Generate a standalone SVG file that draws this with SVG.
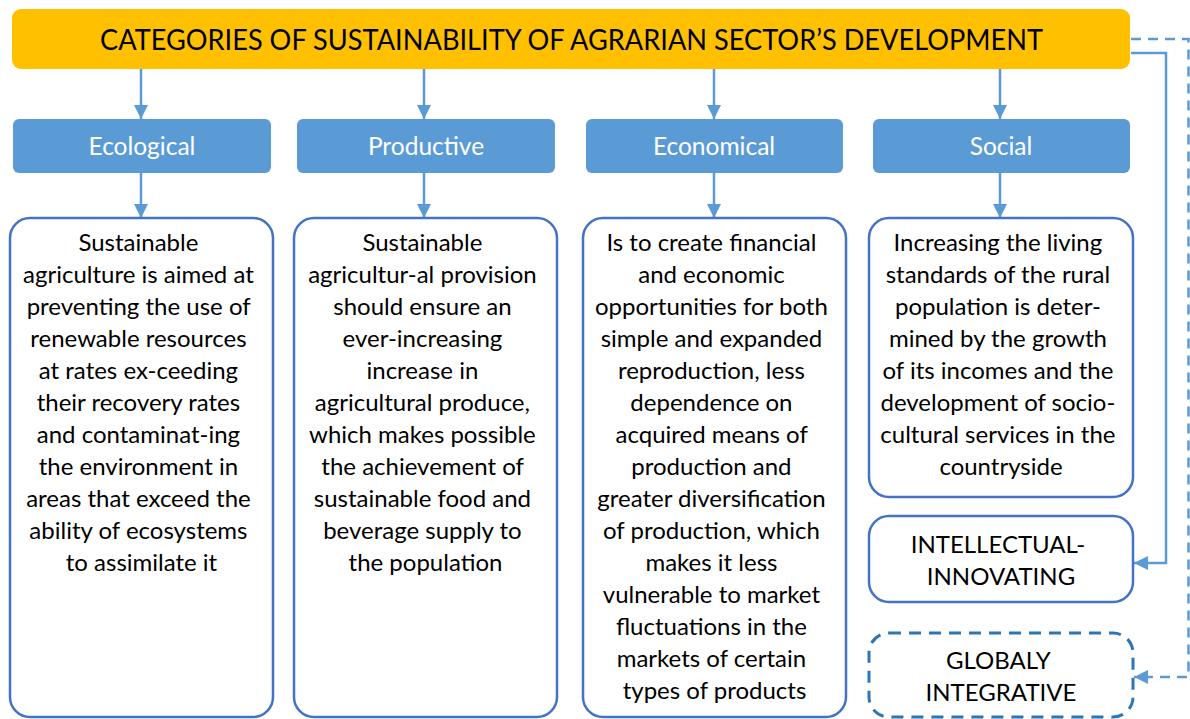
<svg xmlns="http://www.w3.org/2000/svg" width="1190" height="719" viewBox="0 0 1190 719">
<defs>
<marker id="ah" markerUnits="userSpaceOnUse" markerWidth="16" markerHeight="16" refX="14" refY="7" orient="auto">
<path d="M0,0 L14,7 L0,14 Z" fill="#5B9BD5"/>
</marker>
<style>
.hdr{fill:#5B9BD5;}
.hdrt{fill:#FFFFFF;font-family:Lato,"Liberation Sans",sans-serif;font-size:24.5px;text-anchor:middle;}
.box{fill:#FFFFFF;stroke:#4472C4;stroke-width:2.5;}
.dbox{fill:#FFFFFF;stroke:#2E75B6;stroke-width:3;stroke-dasharray:12 8;}
.t{fill:#000000;font-family:Lato,"Liberation Sans",sans-serif;font-size:24px;text-anchor:middle;}
.c{fill:none;stroke:#5B9BD5;stroke-width:2.5;}
.cd{fill:none;stroke:#5B9BD5;stroke-width:2.5;stroke-dasharray:10 7;}
</style>
</defs>
<rect width="1190" height="719" fill="#FFFFFF"/>

<g id="title">
<rect x="12" y="9" width="1118" height="60" rx="9" fill="#FFC000"/>
<text x="571.5" y="50" font-family="Lato,'Liberation Sans',sans-serif" font-size="28" text-anchor="middle" fill="#000000" textLength="943" lengthAdjust="spacingAndGlyphs">CATEGORIES OF SUSTAINABILITY OF AGRARIAN SECTOR’S DEVELOPMENT</text>
</g>

<g id="connectors">
<line class="c" x1="141" y1="69" x2="141" y2="119" marker-end="url(#ah)"/>
<line class="c" x1="424" y1="69" x2="424" y2="119" marker-end="url(#ah)"/>
<line class="c" x1="714" y1="69" x2="714" y2="119" marker-end="url(#ah)"/>
<line class="c" x1="1000" y1="69" x2="1000" y2="119" marker-end="url(#ah)"/>
<line class="c" x1="141" y1="173" x2="141" y2="218" marker-end="url(#ah)"/>
<line class="c" x1="424" y1="173" x2="424" y2="218" marker-end="url(#ah)"/>
<line class="c" x1="714" y1="173" x2="714" y2="218" marker-end="url(#ah)"/>
<line class="c" x1="1000" y1="173" x2="1000" y2="218" marker-end="url(#ah)"/>
<polyline class="c" points="1131,53 1166,53 1166,563 1134,563" marker-end="url(#ah)"/>
<polyline class="cd" points="1131,39 1188.5,39 1188.5,677 1134,677" marker-end="url(#ah)"/>
</g>

<g id="ecological-header">
<rect class="hdr" x="13" y="119" width="258" height="54" rx="6"/>
<text class="hdrt" x="142" y="155">Ecological</text>
</g>
<g id="productive-header">
<rect class="hdr" x="297" y="119" width="258" height="54" rx="6"/>
<text class="hdrt" x="426" y="155">Productive</text>
</g>
<g id="economical-header">
<rect class="hdr" x="586" y="119" width="257" height="54" rx="6"/>
<text class="hdrt" x="714" y="155">Economical</text>
</g>
<g id="social-header">
<rect class="hdr" x="873" y="119" width="257" height="54" rx="6"/>
<text class="hdrt" x="1001" y="155">Social</text>
</g>

<g id="ecological-text">
<rect class="box" x="10" y="218" width="263" height="499" rx="20"/>
<text class="t">
<tspan x="141.5" y="251">Sustainable</tspan>
<tspan x="141.5" y="283">agriculture is aimed at</tspan>
<tspan x="141.5" y="315">preventing the use of</tspan>
<tspan x="141.5" y="347">renewable resources</tspan>
<tspan x="141.5" y="379">at rates ex-ceeding</tspan>
<tspan x="141.5" y="411">their recovery rates</tspan>
<tspan x="141.5" y="443">and contaminat-ing</tspan>
<tspan x="141.5" y="475">the environment in</tspan>
<tspan x="141.5" y="507">areas that exceed the</tspan>
<tspan x="141.5" y="539">ability of ecosystems</tspan>
<tspan x="141.5" y="571">to assimilate it</tspan>
</text>
</g>

<g id="productive-text">
<rect class="box" x="294" y="218" width="263" height="499" rx="20"/>
<text class="t">
<tspan x="425.5" y="251">Sustainable</tspan>
<tspan x="425.5" y="283">agricultur-al provision</tspan>
<tspan x="425.5" y="315">should ensure an</tspan>
<tspan x="425.5" y="347">ever-increasing</tspan>
<tspan x="425.5" y="379">increase in</tspan>
<tspan x="425.5" y="411">agricultural produce,</tspan>
<tspan x="425.5" y="443">which makes possible</tspan>
<tspan x="425.5" y="475">the achievement of</tspan>
<tspan x="425.5" y="507">sustainable food and</tspan>
<tspan x="425.5" y="539">beverage supply to</tspan>
<tspan x="425.5" y="571">the population</tspan>
</text>
</g>

<g id="economical-text">
<rect class="box" x="583" y="218" width="263" height="499" rx="20"/>
<text class="t">
<tspan x="714.5" y="251">Is to create financial</tspan>
<tspan x="714.5" y="283">and economic</tspan>
<tspan x="714.5" y="315">opportunities for both</tspan>
<tspan x="714.5" y="347">simple and expanded</tspan>
<tspan x="714.5" y="379">reproduction, less</tspan>
<tspan x="714.5" y="411">dependence on</tspan>
<tspan x="714.5" y="443">acquired means of</tspan>
<tspan x="714.5" y="475">production and</tspan>
<tspan x="714.5" y="507">greater diversification</tspan>
<tspan x="714.5" y="539">of production, which</tspan>
<tspan x="714.5" y="571">makes it less</tspan>
<tspan x="714.5" y="603">vulnerable to market</tspan>
<tspan x="714.5" y="635">fluctuations in the</tspan>
<tspan x="714.5" y="667">markets of certain</tspan>
<tspan x="714.5" y="699">types of products</tspan>
</text>
</g>

<g id="social-text">
<rect class="box" x="869" y="218" width="264" height="279" rx="20"/>
<text class="t">
<tspan x="1001" y="251">Increasing the living</tspan>
<tspan x="1001" y="283">standards of the rural</tspan>
<tspan x="1001" y="315">population is deter-</tspan>
<tspan x="1001" y="347">mined by the growth</tspan>
<tspan x="1001" y="379">of its incomes and the</tspan>
<tspan x="1001" y="411">development of socio-</tspan>
<tspan x="1001" y="443">cultural services in the</tspan>
<tspan x="1001" y="475">countryside</tspan>
</text>
</g>

<g id="intellectual-innovating">
<rect class="box" x="869" y="516" width="264" height="86" rx="20"/>
<text class="t">
<tspan x="1001" y="553">INTELLECTUAL-</tspan>
<tspan x="1001" y="585">INNOVATING</tspan>
</text>
</g>

<g id="globaly-integrative">
<rect class="dbox" x="869" y="633" width="264" height="84" rx="20"/>
<text class="t">
<tspan x="1001" y="669">GLOBALY</tspan>
<tspan x="1001" y="701">INTEGRATIVE</tspan>
</text>
</g>
</svg>
